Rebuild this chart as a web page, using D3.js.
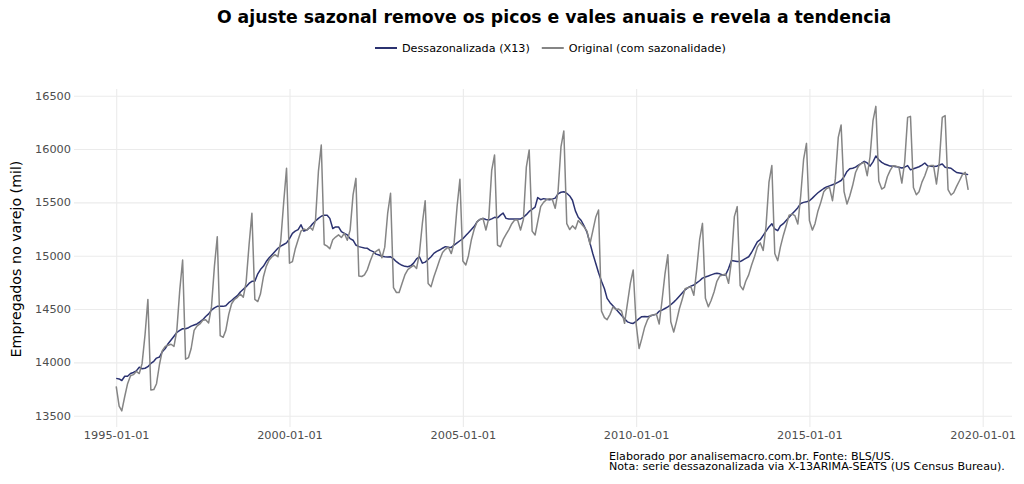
<html>
<head>
  <meta charset="utf-8">
  <script src="https://d3js.org/d3.v7.min.js"></script>
  <style>
    body { margin: 0; background: #fff; }
    text { font-family: "DejaVu Sans", sans-serif; }
  </style>
</head>
<body>
  <div id="chart"></div>
  <script>

    // Serie mensal: primeiro mes
    var inicio = "1995-01-01";

    // Empregados no varejo, dessazonalizada (X13), mil
    var dessaz = [
      13850, 13845, 13830, 13870, 13870, 13895, 13905, 13920, 13955, 13940, 13945, 13960,
      13990, 14010, 14040, 14050, 14100, 14130, 14175, 14210, 14245, 14280, 14300, 14315,
      14315, 14325, 14340, 14350, 14360, 14380, 14400, 14430, 14455, 14490, 14510, 14525,
      14525, 14525, 14530, 14560, 14580, 14605, 14625, 14660, 14685, 14710, 14740, 14760,
      14760, 14830, 14870, 14900, 14945, 14980, 15010, 15040, 15070, 15090, 15105, 15120,
      15160, 15210, 15230, 15245, 15290, 15230, 15240, 15265, 15300, 15325, 15350, 15370,
      15380, 15380, 15350, 15255, 15270, 15270, 15225, 15210, 15195, 15160, 15145, 15100,
      15085, 15078, 15072, 15069, 15050, 15038, 15015, 15007, 14995, 14990, 14988, 14990,
      14970, 14944, 14925, 14910, 14900, 14897, 14905, 14930, 14970, 14990, 14930, 14940,
      14965, 14990, 15022, 15040, 15053, 15070, 15085, 15080, 15078, 15100, 15120, 15140,
      15160, 15190, 15215, 15245, 15275, 15320, 15340, 15350, 15340, 15335, 15345, 15360,
      15355, 15380, 15400, 15350, 15345, 15345, 15345, 15345, 15345, 15360, 15385, 15415,
      15435, 15455, 15545, 15525, 15535, 15530, 15525, 15530, 15540, 15580, 15595, 15600,
      15585, 15560, 15520, 15420, 15360, 15330, 15280, 15220, 15120, 15020, 14930, 14840,
      14760, 14690, 14600, 14560, 14530, 14500, 14470, 14440, 14410, 14380, 14370, 14365,
      14385, 14410, 14428, 14430, 14428, 14435, 14445, 14450, 14480, 14490, 14505, 14520,
      14540, 14565, 14590, 14620, 14650, 14680, 14700, 14715, 14725, 14745, 14765, 14790,
      14800, 14810, 14820, 14830, 14835, 14830, 14820, 14820, 14880, 14955, 14950, 14945,
      14945, 14960, 14975, 14990, 15030, 15080, 15130, 15150, 15190, 15230, 15270, 15300,
      15250, 15235, 15280, 15300, 15330, 15360, 15390, 15420, 15450, 15490, 15500, 15505,
      15515, 15540, 15565, 15590, 15610, 15630, 15645, 15655, 15665, 15675, 15690, 15705,
      15740, 15790, 15815, 15820, 15830, 15850, 15865, 15885, 15870, 15840, 15880, 15935,
      15900, 15875, 15860, 15850, 15840, 15838, 15835, 15830, 15822, 15830, 15845, 15805,
      15815, 15825, 15834, 15850, 15869, 15840, 15838, 15836, 15838, 15850, 15860, 15830,
      15825, 15820, 15800, 15780, 15775, 15770, 15765, 15760
    ];

    // Empregados no varejo, original (com sazonalidade), mil
    var original = [
      13775, 13590, 13545, 13680, 13800, 13875, 13885, 13915, 13895, 13990, 14260, 14590,
      13740, 13745, 13800, 13980, 14110, 14150, 14160, 14170, 14150, 14300, 14680, 14960,
      14030, 14045, 14130, 14300, 14340, 14360, 14395, 14400, 14370, 14520, 14900, 15178,
      14250, 14235, 14300, 14450, 14550, 14590, 14610, 14640, 14610, 14750, 15100, 15397,
      14590, 14570, 14640, 14800, 14900, 14960, 14990, 15010, 14990, 15140, 15500, 15819,
      14930, 14945, 15060, 15150, 15230, 15250, 15240, 15270, 15240, 15330, 15790, 16038,
      15105, 15090, 15065, 15150, 15175, 15195, 15170, 15210, 15145, 15240, 15570, 15725,
      14810, 14805, 14820, 14870, 14950, 15020, 15040, 15060, 14980, 15080, 15400, 15585,
      14700, 14655, 14655, 14740, 14820, 14870, 14890, 14910, 14880, 15020, 15300, 15516,
      14740, 14710, 14800, 14880, 14960, 15030, 15060, 15080, 15020, 15120, 15460, 15716,
      14950, 14913, 15000, 15150, 15250, 15320, 15340, 15350, 15241, 15350, 15800, 15944,
      15100, 15084, 15150, 15200, 15245, 15300, 15335, 15335, 15241, 15340, 15830, 15991,
      15230, 15194, 15320, 15460, 15500, 15525, 15535, 15530, 15444, 15600, 16020, 16170,
      15300, 15245, 15280, 15250, 15330, 15300, 15270, 15230, 15110, 15230, 15360, 15428,
      14480, 14420, 14400, 14450, 14520, 14495, 14500, 14480, 14366, 14550, 14740, 14866,
      14359, 14130, 14220, 14330, 14400, 14440, 14445, 14455, 14360, 14580, 14830, 15010,
      14380, 14285, 14380, 14500, 14590, 14690, 14700, 14710, 14630, 14870, 15150, 15303,
      14600, 14522, 14580, 14660, 14760, 14810, 14819, 14830, 14741, 14950, 15366, 15460,
      14720, 14680, 14760, 14820, 14910, 14990, 15080, 15120, 15050, 15280, 15690, 15845,
      15020, 14953, 15080, 15190, 15280, 15380, 15390, 15375, 15297, 15560, 15906, 16053,
      15330, 15240, 15300, 15420, 15500, 15600, 15630, 15641, 15516, 15720, 16109, 16225,
      15600, 15484, 15560, 15660, 15780, 15840, 15865, 15875, 15750, 15930, 16266, 16400,
      15700, 15625, 15640, 15740, 15800, 15844, 15840, 15830, 15681, 15880, 16297, 16306,
      15640, 15572, 15600, 15690, 15750, 15830, 15845, 15845, 15672, 15880, 16297, 16313,
      15620, 15569, 15590, 15650, 15703, 15760, 15781, 15616
    ];

    // Rotulos dos eixos
    var xTicks = ["1995-01-01", "2000-01-01", "2005-01-01", "2010-01-01", "2015-01-01", "2020-01-01"];
    var yTicks = [13500, 14000, 14500, 15000, 15500, 16000, 16500];

    var series = [
      {nome: "Dessazonalizada (X13)", valores: dessaz, cor: "#2b3270"},
      {nome: "Original (com sazonalidade)", valores: original, cor: "#858585"}
    ];

    // Dimensoes
    var width = 1024, height = 484;
    var panel = {left: 74, right: 1012, top: 89, bottom: 427};

    var parse = d3.utcParse("%Y-%m-%d");
    var t0 = parse(inicio);
    var datas = dessaz.map((d, i) => d3.utcMonth.offset(t0, i));

    // Escalas (com a folga de 5% do ggplot)
    var x = d3.scaleUtc()
      .domain([parse("1995-01-01"), parse("2020-01-01")])
      .range([116.2, 982.7]);

    var y = d3.scaleLinear()
      .domain([13500, 16500])
      .range([415.7, 95.7]);

    var svg = d3.select("#chart")
      .append("svg")
        .attr("width", width)
        .attr("height", height);

    svg.append("rect")
      .attr("width", width)
      .attr("height", height)
      .attr("fill", "#fff");

    // Eixo y com grade
    var gy = svg.append("g")
      .attr("transform", `translate(${panel.left},0)`)
      .call(d3.axisLeft(y)
        .tickValues(yTicks)
        .tickFormat(d3.format("d"))
        .tickSize(-(panel.right - panel.left))
        .tickPadding(3));

    // Eixo x com grade
    var gx = svg.append("g")
      .attr("transform", `translate(0,${panel.bottom})`)
      .call(d3.axisBottom(x)
        .tickValues(xTicks.map(parse))
        .tickFormat(d3.utcFormat("%Y-%m-%d"))
        .tickSize(-(panel.bottom - panel.top))
        .tickPadding(3.5));

    [gx, gy].forEach(g => {
      g.select(".domain").remove();
      g.selectAll(".tick line").attr("stroke", "#ebebeb").attr("stroke-width", 1.1);
      g.selectAll(".tick text")
        .attr("fill", "#4d4d4d")
        .style("font-size", "11.3px")
        .style("font-family", "DejaVu Sans, sans-serif");
    });

    // Linhas
    var line = d3.line()
      .x((d, i) => x(datas[i]))
      .y(d => y(d));

    svg.selectAll("path.serie")
      .data(series)
      .join("path")
        .attr("class", "serie")
        .attr("d", d => line(d.valores))
        .attr("fill", "none")
        .attr("stroke", d => d.cor)
        .attr("stroke-width", 1.5)
        .attr("stroke-linejoin", "round");

    // Titulo
    svg.append("text")
      .attr("x", 554)
      .attr("y", 23)
      .attr("text-anchor", "middle")
      .style("font-size", "17.3px")
      .style("font-weight", "bold")
      .text("O ajuste sazonal remove os picos e vales anuais e revela a tendencia");

    // Legenda
    var legend = svg.append("g");
    var lx = 375;
    series.forEach(s => {
      legend.append("line")
        .attr("x1", lx).attr("x2", lx + 22)
        .attr("y1", 48).attr("y2", 48)
        .attr("stroke", s.cor)
        .attr("stroke-width", 2);
      var t = legend.append("text")
        .attr("x", lx + 27)
        .attr("y", 52)
        .style("font-size", "11.2px")
        .text(s.nome);
      lx = lx + 27 + t.node().getComputedTextLength() + 12;
    });

    // Titulo do eixo y
    svg.append("text")
      .attr("transform", "translate(16,259) rotate(-90)")
      .attr("text-anchor", "middle")
      .attr("dy", "0.35em")
      .style("font-size", "14.2px")
      .text("Empregados no varejo (mil)");

    // Nota de rodape (duas linhas num unico texto)
    var caption = ["Elaborado por analisemacro.com.br. Fonte: BLS/US.",
                   "Nota: serie dessazonalizada via X-13ARIMA-SEATS (US Census Bureau)."];
    svg.append("text")
      .attr("y", 459.5)
      .style("font-size", "11.1px")
      .selectAll("tspan")
      .data(caption)
      .join("tspan")
        .attr("x", 609)
        .attr("dy", (d, i) => i === 0 ? 0 : 10)
        .text(d => d);

  </script>
</body>
</html>
